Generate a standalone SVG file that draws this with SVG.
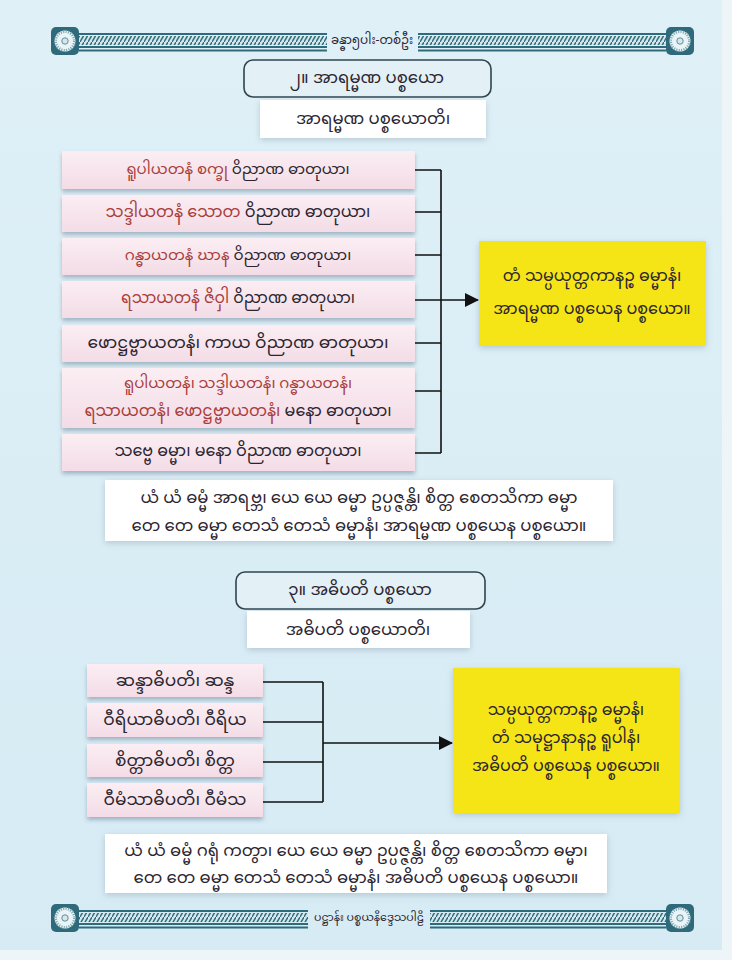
<svg xmlns="http://www.w3.org/2000/svg" width="732" height="960" viewBox="0 0 732 960" font-size="15">
<defs>
<linearGradient id="bg" x1="0" y1="0" x2="0" y2="1">
<stop offset="0" stop-color="#dff0f7"/><stop offset="1" stop-color="#d6ebf4"/>
</linearGradient>
<linearGradient id="pink" x1="0" y1="0" x2="0" y2="1">
<stop offset="0" stop-color="#fbeef3"/><stop offset="1" stop-color="#f3dce6"/>
</linearGradient>
<filter id="sh" x="-10%" y="-20%" width="120%" height="150%">
<feDropShadow dx="0" dy="3" stdDeviation="2" flood-color="#5a6f86" flood-opacity="0.45"/>
</filter>
<filter id="sh2" x="-10%" y="-20%" width="120%" height="150%">
<feDropShadow dx="0" dy="2" stdDeviation="3" flood-color="#7a8fa0" flood-opacity="0.4"/>
</filter>
<pattern id="hatch" width="4" height="7" patternUnits="userSpaceOnUse">
<rect width="4" height="7" fill="#d3e6ec"/>
<path d="M0,7 L4,0" stroke="#2f6b7a" stroke-width="1.4"/>
</pattern>
<marker id="arr" markerWidth="14" markerHeight="14" refX="13" refY="7" orient="auto" markerUnits="userSpaceOnUse" viewBox="0 0 14 14">
<path d="M0,0 L14,7 L0,14 Z" fill="#111"/>
</marker>
<g id="cap">
<rect x="-14" y="-14" width="28" height="28" rx="5" fill="#2e6a79"/>
<circle r="10.5" fill="#eaf4f7"/>
<circle r="9.5" fill="none" stroke="#7fa9b4" stroke-width="3" stroke-dasharray="1.2 1.3"/>
<circle r="3.2" fill="#d8e6ea" stroke="#5e8e9a" stroke-width="1"/>
</g>
</defs>
<style>
.t{font-family:"Noto Sans Myanmar","Padauk","Myanmar Text","Noto Sans",sans-serif;fill:#2b2530;text-anchor:middle;dominant-baseline:middle}
.r{fill:#a93d3b}
.pk{fill:url(#pink);filter:url(#sh)}
.ttl{fill:#e3f0f6;stroke:#2f4450;stroke-width:1.6}
.wh{fill:#ffffff;filter:url(#sh2)}
.yl{fill:#f6e516;filter:url(#sh2)}
.ln{stroke:#111;stroke-width:1.6;fill:none}
.bl{stroke:#2f6b7a;stroke-width:1.8}
</style>
<rect width="732" height="960" fill="url(#bg)"/>
<rect x="722" y="0" width="10" height="960" fill="#eef5f8"/>
<rect x="0" y="950" width="732" height="10" fill="#eef5f8"/>

<g id="topbar">
<rect x="79" y="36" width="248" height="9" fill="url(#hatch)"/>
<rect x="418" y="36" width="248" height="9" fill="url(#hatch)"/>
<path class="bl" d="M79,34H327M79,47H327M79,50.5H327M418,34H666M418,47H666M418,50.5H666"/>
<use href="#cap" x="65" y="41"/>
<use href="#cap" x="680" y="41"/>
<text class="t" x="372" y="41" font-size="12">ခန္ဓာ၅ပါး-တစ်ဦး</text>
</g>

<g id="title1">
<rect class="ttl" x="244" y="60" width="247" height="37" rx="9"/>
<text class="t" x="367" y="79" font-size="16.5">၂။ အာရမ္မဏ ပစ္စယော</text>
</g>
<g id="sub1">
<rect class="wh" x="260" y="100" width="226" height="38"/>
<text class="t" x="373" y="120" font-size="16.5">အာရမ္မဏ ပစ္စယောတိ၊</text>
</g>

<g id="a1"><rect class="pk" x="62" y="151" width="353" height="38"/>
<text class="t" x="238" y="170"><tspan class="r">ရူပါယတနံ စက္ခု</tspan> ဝိညာဏ ဓာတုယာ၊</text></g>
<g id="a2"><rect class="pk" x="62" y="195" width="353" height="37"/>
<text class="t" x="238" y="213" font-size="16"><tspan class="r">သဒ္ဒါယတနံ သောတ</tspan> ဝိညာဏ ဓာတုယာ၊</text></g>
<g id="a3"><rect class="pk" x="62" y="238" width="353" height="37"/>
<text class="t" x="238" y="256"><tspan class="r">ဂန္ဓာယတနံ ဃာန</tspan> ဝိညာဏ ဓာတုယာ၊</text></g>
<g id="a4"><rect class="pk" x="62" y="281" width="353" height="37"/>
<text class="t" x="238" y="299" font-size="15.5"><tspan class="r">ရသာယတနံ ဇိဝှါ</tspan> ဝိညာဏ ဓာတုယာ၊</text></g>
<g id="a5"><rect class="pk" x="62" y="325" width="353" height="37"/>
<text class="t" x="238" y="343" font-size="17">ဖောဋ္ဌဗ္ဗာယတနံ၊ ကာယ ဝိညာဏ ဓာတုယာ၊</text></g>
<g id="a6"><rect class="pk" x="62" y="368" width="353" height="60"/>
<text class="t r" x="238" y="384">ရူပါယတနံ၊ သဒ္ဒါယတနံ၊ ဂန္ဓာယတနံ၊</text>
<text class="t" x="238" y="412" font-size="16"><tspan class="r">ရသာယတနံ၊ ဖောဋ္ဌဗ္ဗာယတနံ၊</tspan> မနော ဓာတုယာ၊</text></g>
<g id="a7"><rect class="pk" x="62" y="434" width="353" height="37"/>
<text class="t" x="238" y="452" font-size="16">သဗ္ဗေ ဓမ္မာ၊ မနော ဝိညာဏ ဓာတုယာ၊</text></g>

<g id="y1">
<rect class="yl" x="479" y="241" width="227" height="105"/>
<text class="t" x="592" y="277" font-size="16">တံ သမ္ပယုတ္တကာနဉ္စ ဓမ္မာနံ၊</text>
<text class="t" x="592" y="310" font-size="16">အာရမ္မဏ ပစ္စယေန ပစ္စယော။</text>
</g>

<g id="p1">
<rect class="wh" x="105" y="480" width="508" height="61"/>
<text class="t" x="359" y="499" font-size="16.5">ယံ ယံ ဓမ္မံ အာရဗ္ဘ၊ ယေ ယေ ဓမ္မာ ဥပ္ပဇ္ဇန္တိ၊ စိတ္တ စေတသိကာ ဓမ္မာ</text>
<text class="t" x="359" y="527" font-size="16.5">တေ တေ ဓမ္မာ တေသံ တေသံ ဓမ္မာနံ၊ အာရမ္မဏ ပစ္စယေန ပစ္စယော။</text>
</g>

<g id="title2">
<rect class="ttl" x="236" y="572" width="249" height="37" rx="9"/>
<text class="t" x="360" y="591" font-size="16.5">၃။ အဓိပတိ ပစ္စယော</text>
</g>
<g id="sub2">
<rect class="wh" x="247" y="611" width="223" height="37"/>
<text class="t" x="358" y="631" font-size="16.5">အဓိပတိ ပစ္စယောတိ၊</text>
</g>

<g id="b1"><rect class="pk" x="87" y="664" width="176" height="33"/>
<text class="t" x="175" y="681" font-size="17">ဆန္ဒာဓိပတိ၊ ဆန္ဒ</text></g>
<g id="b2"><rect class="pk" x="87" y="703" width="176" height="34"/>
<text class="t" x="175" y="720" font-size="17">ဝီရိယာဓိပတိ၊ ဝီရိယ</text></g>
<g id="b3"><rect class="pk" x="87" y="744" width="176" height="33"/>
<text class="t" x="175" y="761" font-size="17">စိတ္တာဓိပတိ၊ စိတ္တ</text></g>
<g id="b4"><rect class="pk" x="87" y="783" width="176" height="34"/>
<text class="t" x="175" y="800" font-size="17">ဝီမံသာဓိပတိ၊ ဝီမံသ</text></g>

<g id="y2">
<rect class="yl" x="453" y="668" width="227" height="145"/>
<text class="t" x="566" y="711" font-size="16">သမ္ပယုတ္တကာနဉ္စ ဓမ္မာနံ၊</text>
<text class="t" x="566" y="739" font-size="16">တံ သမုဋ္ဌာနာနဉ္စ ရူပါနံ၊</text>
<text class="t" x="566" y="767" font-size="16">အဓိပတိ ပစ္စယေန ပစ္စယော။</text>
</g>

<g id="p2">
<rect class="wh" x="105" y="834" width="502" height="59"/>
<text class="t" x="356" y="852" font-size="16.5">ယံ ယံ ဓမ္မံ ဂရုံ ကတွာ၊ ယေ ယေ ဓမ္မာ  ဥပ္ပဇ္ဇန္တိ၊ စိတ္တ စေတသိကာ ဓမ္မာ၊</text>
<text class="t" x="356" y="879" font-size="16.5">တေ တေ ဓမ္မာ တေသံ တေသံ ဓမ္မာနံ၊ အဓိပတိ ပစ္စယေန ပစ္စယော။</text>
</g>

<g id="connectors">
<path class="ln" d="M415,170H441M415,212H441M415,255H441M415,343H441M415,391H441M415,453H441M441,170V453"/>
<path class="ln" d="M415,300H478" marker-end="url(#arr)"/>
<path class="ln" d="M263,682H323M263,722H323M263,762H323M263,802H323M323,682V802"/>
<path class="ln" d="M323,743H452" marker-end="url(#arr)"/>
</g>

<g id="bottombar">
<rect x="79" y="913" width="229" height="9" fill="url(#hatch)"/>
<rect x="430" y="913" width="236" height="9" fill="url(#hatch)"/>
<path class="bl" d="M79,911H308M79,924H308M79,927.5H308M430,911H666M430,924H666M430,927.5H666"/>
<use href="#cap" x="65" y="918"/>
<use href="#cap" x="680" y="918"/>
<text class="t" x="369" y="918" font-size="11">ပဋ္ဌာန်း ပစ္စယနိဒ္ဒေသပါဠိ</text>
</g>
</svg>
